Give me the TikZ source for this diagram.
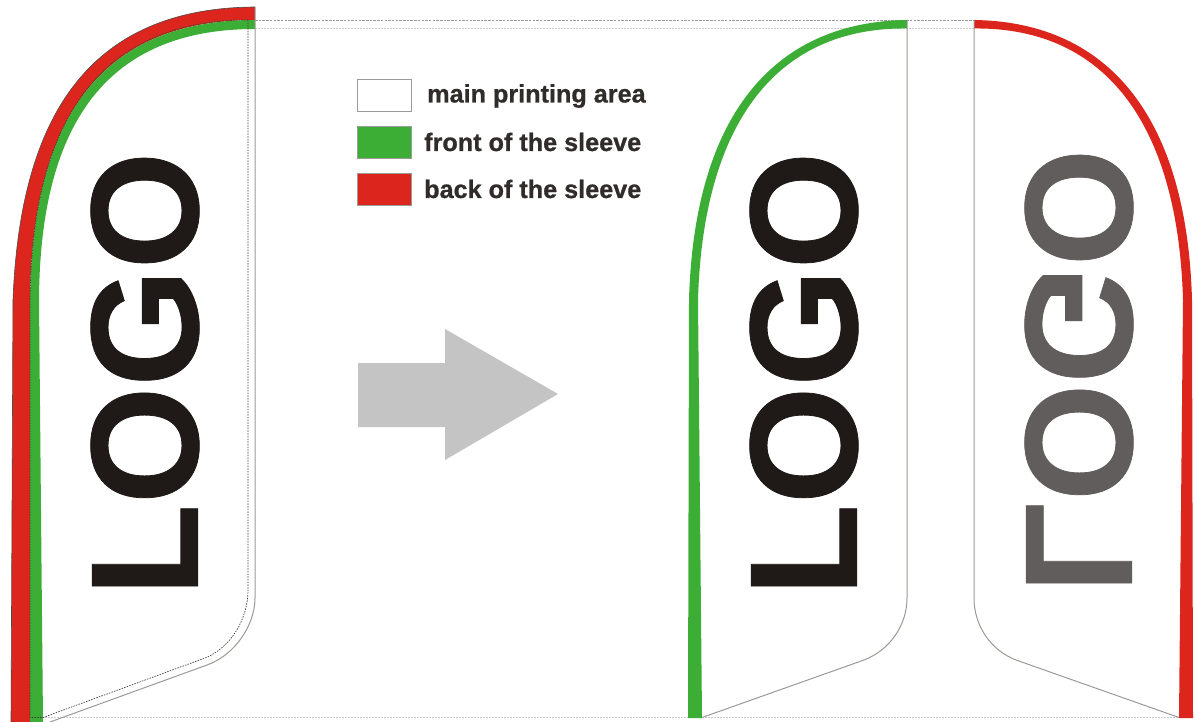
\documentclass[tikz,border=0pt]{standalone}
\usepackage{fontspec}
\setmainfont[BoldFeatures={FakeBold=0.8}]{Liberation Sans}
\newfontfamily\logofont[BoldFeatures={FakeBold=0.5}]{Liberation Sans}
\definecolor{flaggreen}{HTML}{3CAE35}
\definecolor{flagred}{HTML}{DC251C}
\definecolor{logoblack}{HTML}{1F1A17}
\definecolor{logogray}{HTML}{615D5C}
\definecolor{edgegray}{HTML}{9A9A96}
\definecolor{arrowgray}{HTML}{C4C4C4}
\tikzset{
  edgeline/.style={draw=edgegray,line width=1pt},
  thinedge/.style={draw=black!70,line width=0.6pt},
  stitch/.style={draw=black!75,line width=0.7pt,dash pattern=on 1.5pt off 1.2pt},
  guide/.style={draw=black!40,line width=0.6pt,dash pattern=on 2.5pt off 1.2pt},
  guidelight/.style={draw=black!20,line width=0.8pt,dash pattern=on 1.5pt off 1.5pt},
  logotext/.style={inner sep=0pt,font=\fontsize{152}{152}\logofont\bfseries},
  legendbox/.style={draw=edgegray,line width=1pt,minimum width=54pt,minimum height=32pt,inner sep=0pt},
  legendtext/.style={anchor=base west,inner sep=0pt,text=logoblack!92,font=\fontsize{25.2}{27}\selectfont\bfseries},
}
\begin{document}
\begin{tikzpicture}[x=1pt,y=-1pt]
\useasboundingbox (0,0) rectangle (1194,722);
\fill[white] (0,0) rectangle (1194,722);
% guides
\draw[guide] (255,20) -- (974,20);
\draw[guidelight] (255,28.5) -- (974,28.5);
\draw[guidelight] (30,717.5) -- (1194,717.5);
% left flag: red back
\fill[flagred] (255,7) .. controls (86,8) and (20,120) .. (13,300) -- (11,722) -- (30,722) -- (30,300)
  .. controls (32,120) and (100,20) .. (255,20) -- cycle;
% left flag: green front
\fill[flaggreen] (255,20) .. controls (100,20) and (32,120) .. (30,300) -- (30,722) -- (43,722) -- (39,300)
  .. controls (40,122) and (108,29) .. (255,29) -- cycle;
\draw[thinedge] (255,7) .. controls (86,8) and (20,120) .. (13,300) -- (11,722);
\draw[stitch] (248,20) .. controls (100,20) and (32,120) .. (30,300) -- (30,717.5) -- (43,717.5);
% left flag: edges
\draw[edgeline] (255,7) -- (255,598) .. controls (255,625) and (235,655) .. (207,665) -- (50,722);
\draw[stitch] (248,20) -- (248,590) .. controls (248,620) and (230,648) .. (205,658) -- (43,717.5);
% middle flag
\fill[flaggreen] (907,20) .. controls (770,22) and (694,120) .. (689,300) -- (688,718) -- (702,718) -- (698,300)
  .. controls (703,125) and (775,27) .. (907,28.5) -- cycle;
\draw[edgeline] (907,20) -- (907,598) .. controls (907,625) and (890,650) .. (864,660) -- (702,717.5);
% right flag
\fill[flagred] (974,20) .. controls (1111,22) and (1187,120) .. (1192,300) -- (1193,718) -- (1179,718) -- (1183,300)
  .. controls (1178,125) and (1106,27) .. (974,28.5) -- cycle;
\draw[edgeline] (974,20) -- (974,598) .. controls (974,625) and (990,650) .. (1016,660) -- (1179,717.5);
% logos
\node[logotext,text=logoblack,rotate=90,xscale=0.993,yscale=1.01] (logoleft) at (145,374) {LOGO};
\node[logotext,text=logoblack,rotate=90,xscale=0.993,yscale=1.01] (logomid) at (804,374) {LOGO};
\node[logotext,text=logogray,rotate=90,xscale=0.993,yscale=-1.01] (logoright) at (1079,371) {LOGO};
% arrow
\fill[arrowgray] (358,363) -- (445,363) -- (445,329) -- (558,394) -- (445,460) -- (445,427) -- (358,427) -- cycle;
% legend
\node[legendbox,fill=white] (boxmain) at (384,95.3) {};
\node[legendbox,fill=flaggreen] (boxfront) at (384,142.3) {};
\node[legendbox,fill=flagred] (boxback) at (384,189.3) {};
\node[legendtext] (labmain) at (427,102.5) {main printing area};
\node[legendtext] (labfront) at (424,151) {front of the sleeve};
\node[legendtext] (labback) at (424,198) {back of the sleeve};
\end{tikzpicture}
\end{document}
